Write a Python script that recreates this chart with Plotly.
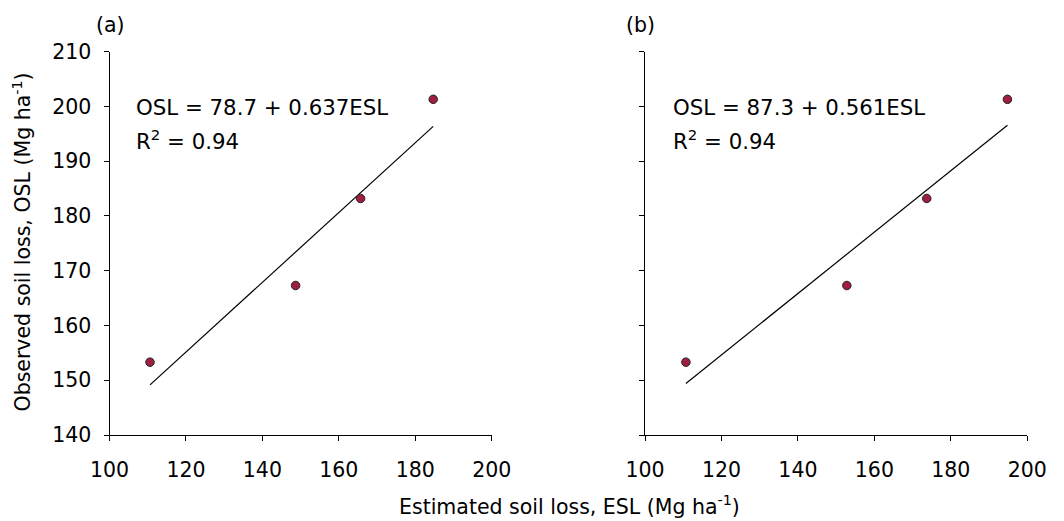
import plotly.graph_objects as go

# Data
esl_a = [110.6, 148.7, 165.7, 184.7]
osl_a = [153.3, 167.3, 183.2, 201.3]
esl_b = [110.7, 152.8, 173.7, 194.8]
osl_b = [153.3, 167.3, 183.2, 201.3]
fit_a = (78.7, 0.637)
fit_b = (87.3, 0.561)
eq_a = ["OSL = 78.7 + 0.637ESL", "R<sup>2</sup> = 0.94"]
eq_b = ["OSL = 87.3 + 0.561ESL", "R<sup>2</sup> = 0.94"]
panel_labels = ["(a)", "(b)"]
x_ticks = [100, 120, 140, 160, 180, 200]
y_ticks = [140, 150, 160, 170, 180, 190, 200, 210]

W, H = 1064, 521
FONT = "DejaVu Sans"
marker_color = "#9E1F3F"

fig = go.Figure()

for (xs, ys, fit, xa, ya) in [(esl_a, osl_a, fit_a, "x", "y"), (esl_b, osl_b, fit_b, "x2", "y2")]:
    lx = [min(xs), max(xs)]
    ly = [fit[0] + fit[1] * v for v in lx]
    fig.add_trace(go.Scatter(x=lx, y=ly, mode="lines", line=dict(color="black", width=1.2),
                             xaxis=xa, yaxis=ya, showlegend=False, hoverinfo="skip"))
    fig.add_trace(go.Scatter(x=xs, y=ys, mode="markers",
                             marker=dict(size=8.5, color=marker_color, line=dict(color="#222", width=1)),
                             xaxis=xa, yaxis=ya, showlegend=False))

def px2x(px):
    return px / W

def px2y(py):
    return 1 - py / H

axis_common = dict(showgrid=False, zeroline=False, showline=True, linecolor="black", linewidth=1,
                   ticks="outside", ticklen=5, tickcolor="black", tickwidth=1, automargin=False,
                   tickfont=dict(family=FONT, size=20.5, color="black"))

fig.update_layout(
    width=W, height=H,
    margin=dict(l=0, r=0, t=0, b=0, autoexpand=False),
    paper_bgcolor="white", plot_bgcolor="white",
    font=dict(family=FONT, color="black"),
    xaxis=dict(domain=[px2x(109.5), px2x(491.7)], range=[100, 200], tickvals=x_ticks, anchor="y",
               ticklabelstandoff=11, **axis_common),
    yaxis=dict(domain=[px2y(435), px2y(51.7)], range=[140, 210], tickvals=y_ticks, anchor="x",
               ticklabelstandoff=8, **axis_common),
    xaxis2=dict(domain=[px2x(645), px2x(1027.3)], range=[100, 200], tickvals=x_ticks, anchor="y2",
                ticklabelstandoff=11, **axis_common),
    yaxis2=dict(domain=[px2y(435), px2y(51.7)], range=[140, 210], tickvals=y_ticks, anchor="x2",
                showticklabels=False, **axis_common),
)

ann = []
ann.append(dict(text=panel_labels[0], x=px2x(110), y=px2y(25), xref="paper", yref="paper",
                showarrow=False, xanchor="center", yanchor="middle", font=dict(size=20.5)))
ann.append(dict(text=panel_labels[1], x=px2x(641), y=px2y(25), xref="paper", yref="paper",
                showarrow=False, xanchor="center", yanchor="middle", font=dict(size=20.5)))
for eq, x0 in [(eq_a, 134), (eq_b, 671)]:
    ann.append(dict(text=eq[0], x=px2x(x0), y=px2y(108), xref="paper", yref="paper",
                    showarrow=False, xanchor="left", yanchor="middle", font=dict(size=21.3)))
    ann.append(dict(text=eq[1], x=px2x(x0), y=px2y(140), xref="paper", yref="paper",
                    showarrow=False, xanchor="left", yanchor="middle", font=dict(size=21.3)))
ann.append(dict(text="Estimated soil loss, ESL (Mg ha<sup>-1</sup>)", x=px2x(569), y=px2y(505),
                xref="paper", yref="paper", showarrow=False, xanchor="center", yanchor="middle",
                font=dict(size=20.5)))
ann.append(dict(text="Observed soil loss, OSL (Mg ha<sup>-1</sup>)", x=px2x(21.5), y=px2y(242),
                xref="paper", yref="paper", showarrow=False, xanchor="center", yanchor="middle",
                textangle=-90, font=dict(size=20.5)))
fig.update_layout(annotations=ann)

fig.write_html("out.html")
